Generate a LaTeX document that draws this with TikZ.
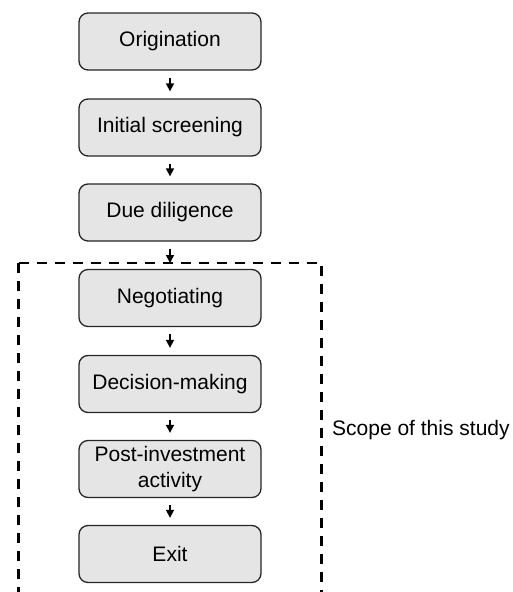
\documentclass[tikz,border=0pt]{standalone}
\usepackage{fontspec}
\setmainfont{Liberation Sans}
\usetikzlibrary{arrows.meta}
\begin{document}
\begin{tikzpicture}[x=1pt,y=-1pt,
  stage/.style={draw=black!85, line width=1.3pt, fill=black!10, rounded corners=9pt,
    minimum width=182pt, minimum height=57pt, inner sep=2pt, align=center,
    font=\fontsize{21}{25.5}\selectfont},
  arr/.style={line width=1.6pt, -{Triangle[length=8pt,width=8pt]}},
  scope/.style={line width=2.5pt, dash pattern=on 10pt off 8pt}]
\useasboundingbox (0,0) rectangle (513,592);
\clip (0,0) rectangle (513,592);
\node[stage] (a) at (170,41.5) {Origination};
\node[stage] (b) at (170,127.5) {Initial screening};
\node[stage] (c) at (170,212.5) {Due diligence};
\node[stage] (d) at (170,298) {Negotiating};
\node[stage] (e) at (170,384) {Decision-making};
\node[stage] (f) at (170,469) {Post-investment\\activity};
\node[stage] (g) at (170,554) {Exit};
\coordinate (tl) at (18.5,263);
\coordinate (tr) at (321.5,263);
\coordinate (bl) at (18.5,600);
\coordinate (br) at (321.5,600);
\coordinate (tm) at (170,263);
\draw[scope] (tl) -- (bl);
\draw[scope] (tl) -- (tr) -- (br);
\draw[arr] ([yshift=-7pt]a.south) -- ([yshift=7pt]b.north);
\draw[arr] ([yshift=-7pt]b.south) -- ([yshift=7pt]c.north);
\draw[arr] ([yshift=-7pt]c.south) -- (tm);
\draw[arr] ([yshift=-7pt]d.south) -- ([yshift=7pt]e.north);
\draw[arr] ([yshift=-7pt]e.south) -- ([yshift=7pt]f.north);
\draw[arr] ([yshift=-7pt]f.south) -- ([yshift=7pt]g.north);
\node[anchor=west, inner sep=0pt, font=\fontsize{21}{25}\selectfont] (s) at (332,430) {Scope of this study};
\end{tikzpicture}
\end{document}
